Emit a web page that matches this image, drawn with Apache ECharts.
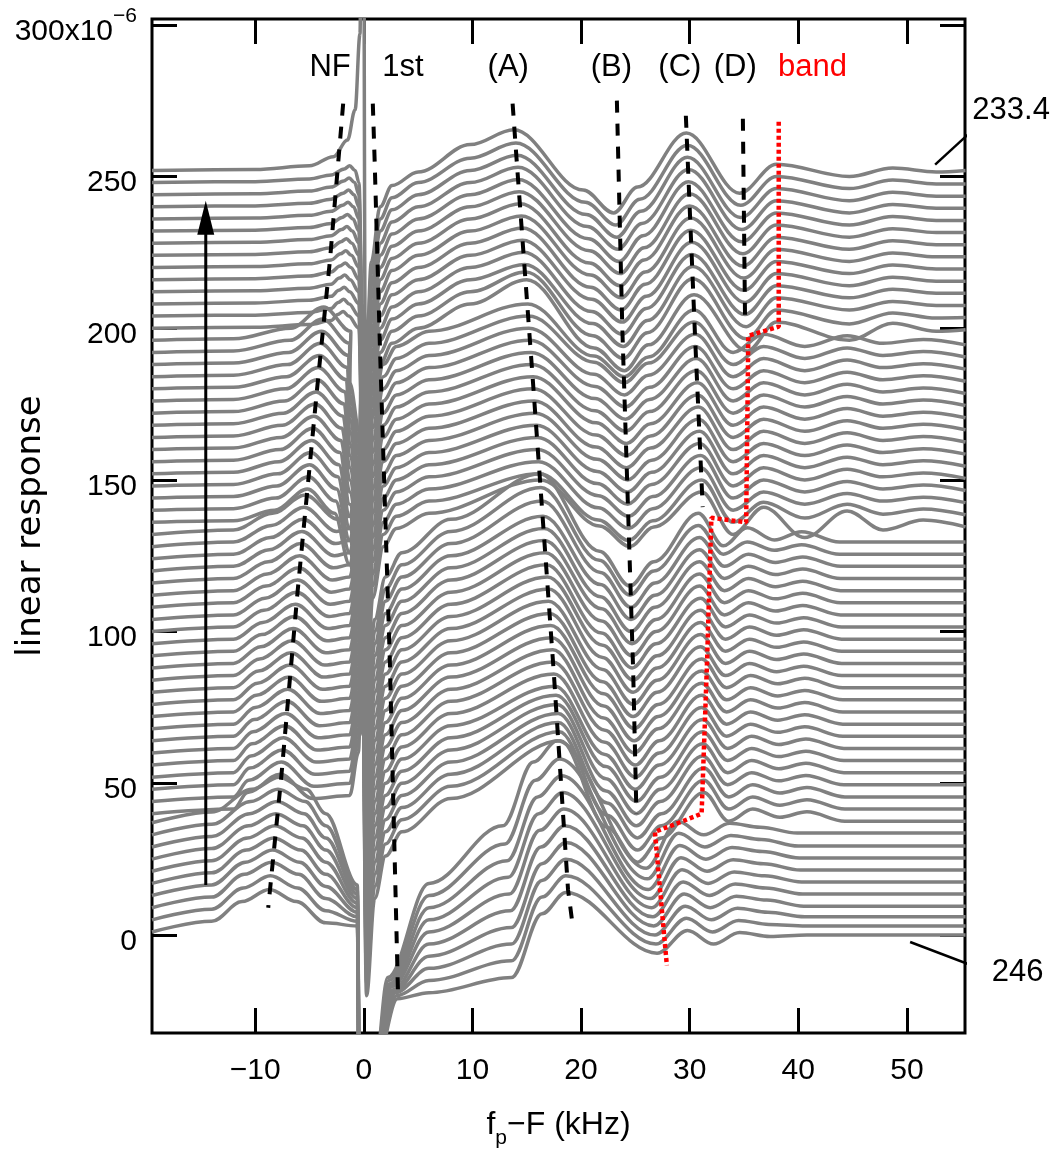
<!DOCTYPE html>
<html>
<head>
<meta charset="utf-8">
<script src="https://cdn.jsdelivr.net/npm/echarts@6/dist/echarts.min.js"></script>
<style>
html, body { margin: 0; padding: 0; background: #fff; }
#chart { width: 1063px; height: 1149px; }
</style>
</head>
<body>
<div id="chart"></div>
<script>
// ---- waterfall of linear-response traces, 246 (bottom) → 233.4 (top) ----
const traceStep = 4;                 // vertical offset between traces (×10⁻⁶)
const traceNames = ['246', '233.4']; // first and last trace
const xTicks = [-10, 0, 10, 20, 30, 40, 50];
const yTicks = [0, 50, 100, 150, 200, 250, 300];

// regime of each trace (1: bottom block … 4: top block, 5: topmost trace)
const traceGroup = [
  1,1,1,1,1,1,1,1,1,1,
  2,2,2,2,2,2,2,2,2,2,2,2,2,2,2,2,2,2,2,2,2,2,2,2,
  3,3,3,3,3,3,3,3,3,3,3,3,3,3,3,3,
  4,4,4,4,4,4,4,4,4,4,4,4,4,5
];

// NF peak position (kHz) and height above trace offset
const nfX = [
  -8.7,-8.6,-8.5,-8.4,-8.3,-8.2,-8.1,-8.0,-7.9,-7.8,
  -7.7,-7.6,-7.5,-7.4,-7.3,-7.2,-7.1,-7.0,-6.9,-6.8,-6.7,-6.6,-6.5,-6.4,-6.3,-6.2,-6.1,-6.0,-5.9,-5.8,-5.7,-5.6,-5.5,-5.4,
  -5.2,-5.1,-5.0,-4.9,-4.8,-4.7,-4.6,-4.5,-4.4,-4.3,-4.2,-4.1,-4.0,-3.9,-3.8,-3.7,
  -1.9,-1.85,-1.8,-1.75,-1.7,-1.65,-1.6,-1.55,-1.5,-1.45,-1.4,-1.35,-1.3,-1.25
];
const nfH = [
  15,15.5,16,16,16,16,16,16,16,16,
  13,13,13,13,13,13,13,13,13,13,13,13,13,13,13,13,13,13,13,13,13,13,13,13,
  11,11,11,11,11,11,11,11,11,11,11,11,11,11,11,11,
  5.5,5.5,5.5,5.5,5.5,5.5,5.5,5.5,5.5,5.5,5.5,5.5,5.5,0
];

// (A) peak
const aX = [
  18.6,18.6,18.6,18.6,18.5,18.4,18.3,18.2,18.0,17.8,
  18.1,18.0,17.9,17.9,17.8,17.7,17.6,17.5,17.4,17.4,17.3,17.2,17.1,17.0,17.0,16.9,16.8,16.7,16.6,16.6,16.5,16.4,16.3,16.2,
  16.3,16.2,16.1,16.0,16.0,15.9,15.8,15.7,15.6,15.6,15.5,15.4,15.3,15.2,15.2,15.1,
  15.0,14.9,14.8,14.7,14.6,14.6,14.5,14.4,14.3,14.2,14.2,14.1,14.0,13.8
];
const aH = [
  14,15.5,17,18.5,20,21.5,23,24.5,26,28,
  24,23,22,21,20,19,18,18,18,18,18,18,18,18,18,18,18,18,18,18,18,19,19.5,20,
  14,12,12,12,12,12,12,12,12,12,12,12,12,12,12,12,
  16,14.5,13,13,13,13,13,13,13,13,13,13,13,13.4
];

// (B) dip (band-edge dip for the bottom block)
const bX = [
  27.0,26.9,26.8,26.7,26.6,26.5,26.4,26.2,26.1,26.0,
  25.2,25.2,25.2,25.1,25.1,25.1,25.0,25.0,25.0,24.9,24.9,24.9,24.8,24.8,24.8,24.8,24.7,24.7,24.7,24.6,24.6,24.6,24.5,24.5,
  24.5,24.4,24.4,24.4,24.3,24.3,24.3,24.2,24.2,24.2,24.1,24.1,24.1,24.0,24.0,24.0,
  24.0,23.9,23.9,23.8,23.8,23.7,23.7,23.6,23.6,23.5,23.4,23.3,23.2,23.0
];
const bH = [
  -6,-7,-8,-9,-10,-11,-12,-13,-13.5,-14,
  -16,-16,-16,-16,-16,-16,-16,-16,-16,-16,-16,-16,-16,-16,-16,-16,-16,-16,-16,-16,-16,-16,-16,-17,
  -8,-10,-10,-10,-10,-10,-10,-10,-10,-10,-10,-10,-10,-10,-10,-12,
  -14,-14,-14,-14,-14,-14,-14,-14,-14,-14,-14,-14,-14,-14
];

// (C) peak
const cX = [
  29.8,29.7,29.6,29.5,29.4,29.3,29.2,29.1,29.0,28.9,
  31.3,31.3,31.3,31.2,31.2,31.2,31.2,31.1,31.1,31.1,31.1,31.1,31.0,31.0,31.0,31.0,31.0,30.9,30.9,30.9,30.9,30.9,30.8,30.8,
  31.1,31.1,31.0,31.0,30.9,30.9,30.8,30.8,30.7,30.7,30.6,30.6,30.5,30.5,30.4,30.4,
  30.4,30.3,30.3,30.2,30.2,30.1,30.1,30.0,30.0,29.9,29.9,29.8,29.8,29.7
];
const cH = [
  1.5,1.5,1.5,1.5,1.5,1.5,1.5,1.5,1.5,1.5,
  7,7,7,7,7,7,7,7,7,7,7,7,7,7,7,7,7,7,7,7,7,7,7,7,
  10,10,10,10,10,10,10,10,10,10,10,10,10,10,10,10,
  11,12.3,12.3,12.3,12.3,12.3,12.3,12.3,12.3,12.3,12.3,12.3,12.3,12.3
];

// size of the ripple beyond the band edge
const ripple = [
  1,1,1,1,1,1,1,1,1,1,
  1,1,1,1,1,1,1,1,1,1,1,1,1,1,1,1,1,1,1,1,1,1,1,1.5,
  2.5,1.3,1,1,1,1,1,1,1,1,1,1,1,1,1,1,
  2,1.3,1,1,1,1,1,1,1,1,1,1,1,1
];

// level of the far right tail relative to the trace offset
const tailH = [
  0,-1,-2,-2.5,-2.5,-2.5,-2.6,-2.6,-2.7,-2.4,
  -2.5,-2.5,-2.5,-2.5,-2.5,-2.5,-2.5,-2.5,-2.5,-2.5,-2.5,-2.5,-2.5,-2.5,-2.5,-2.5,-2.5,-2.5,-2.5,-2.5,-2.5,-2.5,-2.5,-2.5,
  -1.5,-1.5,-1.5,-1.5,-1.5,-1.5,-1.5,-1.5,-1.5,-1.5,-1.5,-1.5,-1.5,-1.5,-1.5,-1.5,
  -0.5,-0.5,-0.5,-0.5,-0.5,-0.5,-0.5,-0.5,-0.5,-0.5,-0.5,-0.5,-0.5,0
];

// bottom block: level reached just below the 1st resonance, and minimum just above it (absolute)
const joinY = [3,4.5,6,7.5,9,10.5,12,13.5,15,16.5];
const postX = [3.1,3.0,2.9,2.8,2.7,2.6,2.5,2.4,2.3,2.2];
const postY = [-21,-20,-19,-18.5,-18,-17,-16.5,-16,-15,-14];

// key points of each regime: [x anchor, dx, y anchor, dy]
const shapeG1 = [
  ['x',-19.5,'o',1], ['x',-14,'o',4.5], ['nf',-2.5,'nf',-4], ['nf',0,'nf',0], ['nf',2.5,'nf',-4],
  ['x',-3.5,'o',4], ['x',-0.6,'j',0], ['x',-0.15,'abs',-250], ['x',0.35,'abs',-250], ['x',1.0,'abs',-45],
  ['p',0,'p',0], ['x',6,'o',-19], ['a',-5,'a',-28], ['a',-2.2,'a',-7], ['a',0,'a',0],
  ['b',0,'b',0], ['c',0,'c',0], ['c',2.4,'o',-3], ['c',4.8,'o',0.8],
  ['c',7.6,'o',-0.5], ['c',11,'t',0], ['x',55.4,'t',0]
];
const shapeG2 = [
  ['x',-19.5,'o',0], ['x',-12,'o',1.5], ['nf',-3,'nf',-6], ['nf',0,'nf',0], ['nf',3,'nf',-8],
  ['x',-1.3,'o',6], ['x',-0.5,'o',20], ['x',-0.15,'o',60], ['x',0.25,'o',-60], ['x',1,'o',-28],
  ['x',2,'o',-14], ['x',3.5,'o',-6], ['x',8,'o',5], ['a',0,'a',0], ['b',-2.8,'b',11.5], ['b',0,'b',0],
  ['b',2.2,'b',8], ['c',0,'c',0],
  ['c',2.3,'r',-2.5], ['c',4.5,'r',1.5], ['c',7,'r',-1.2], ['c',9.5,'r',0.6], ['c',13,'t',0], ['x',55.4,'t',0]
];
const shapeG3 = [
  ['x',-19.5,'o',0], ['x',-12,'o',0.5], ['nf',-3,'nf',-7], ['nf',0,'nf',0], ['nf',2.5,'nf',-8],
  ['x',-1.3,'o',-14], ['x',-0.4,'o',-30], ['x',-0.1,'o',-70], ['x',0.2,'o',-70], ['x',0.8,'o',-25],
  ['x',1.8,'o',-8], ['x',3,'o',-2], ['x',6,'o',3], ['a',0,'a',0], ['b',-2.8,'b',6.8], ['b',0,'b',0],
  ['b',2.2,'b',6.5], ['c',0,'c',0],
  ['x',34,'o',-4], ['x',36.8,'r',2], ['x',40.6,'r',-2], ['x',44.5,'r',1.5], ['x',47.8,'r',-1], ['x',51.5,'r',0.3], ['x',55.4,'t',0]
];
const shapeG4 = [
  ['x',-19.5,'o',0], ['x',-10,'o',0.3], ['x',-5,'o',1.2], ['x',-3,'o',2.5], ['nf',-0.5,'nf',-1],
  ['nf',0,'nf',0], ['nf',0.5,'nf',-1.5], ['x',-0.45,'o',0], ['x',-0.15,'o',-40], ['x',0.15,'o',-70],
  ['x',0.7,'o',-30], ['x',1.5,'o',-12], ['x',2.6,'o',-5], ['x',5,'o',0], ['x',9.8,'o',8],
  ['a',0,'a',0], ['b',-2.8,'b',7.5], ['b',0,'b',0], ['b',2.2,'b',8.5], ['c',0,'c',0], ['c',4.9,'o',-7.5], ['x',38,'o',2],
  ['x',44.7,'r',-2], ['x',48.7,'r',0.8], ['x',52.7,'r',-0.5], ['x',55.4,'t',0]
];
const shapeTop = [
  ['x',-19.5,'o',0], ['x',-10,'o',0.3], ['x',-5,'o',1.5], ['x',-2.8,'o',4.5], ['x',-1.5,'o',10],
  ['x',-0.8,'o',20], ['x',-0.35,'o',45], ['x',-0.1,'abs',450], ['x',0.15,'o',-70], ['x',0.7,'o',-30],
  ['x',1.5,'o',-12], ['x',2.6,'o',-5], ['x',5,'o',-0.5], ['x',9.8,'o',8.5], ['a',0,'a',0],
  ['b',-2.8,'b',7.5], ['b',0,'b',0], ['b',2.2,'b',8.5], ['c',0,'c',0], ['c',4.9,'o',-7.5], ['x',38,'o',2], ['x',44.7,'r',-2],
  ['x',48.7,'r',0.8], ['x',52.7,'r',-0.5], ['x',55.4,'t',0]
];
const shapes = { 1: shapeG1, 2: shapeG2, 3: shapeG3, 4: shapeG4, 5: shapeTop };

// dashed guides following each feature, and the dotted band edge
const guideNF  = [[-1.9,274],[-3.1,223],[-4.3,180],[-6.1,113],[-7.6,52],[-8.8,9]];
const guide1st = [[0.83,274],[1.0,255],[1.5,192],[2.4,90],[3.16,-21]];
const guideA   = [[13.7,274],[14.1,254],[15.6,181],[17.5,86],[18.8,15],[19.2,4]];
const guideB   = [[23.3,275],[23.8,200],[24.8,87],[25.1,40]];
const guideC   = [[29.65,270],[30.5,197],[31.2,141]];
const guideD   = [[34.9,269],[35.1,203]];
const bandEdge = [[38.2,268],[38.2,200.5],[35.4,197.5],[35.2,136],[32.0,137.5],[31.6,90],[31.1,40],[29.0,37],[26.8,34],[27.9,-10]];

// feature labels along the top
const featureLabels = [
  ['NF', -3.1, 286], ['1st', 3.6, 286], ['(A)', 13.3, 286], ['(B)', 22.8, 286],
  ['(C)', 29.1, 286], ['(D)', 34.2, 286], ['band', 41.3, 286]
];
// arrow showing the stepping direction
const arrowShaft = [[-14.55, 16.5], [-14.55, 232]];
const arrowTip = [-14.55, 242];
// leaders to the first / last trace
const leaderTop = [[52.6, 253.9], [56.4, 266.4]];
const leaderBottom = [[50.3, -2.3], [56.3, -10.5]];
const nameTop = [59.6, 271.7];
const nameBottom = [60.2, -12.2];

function buildTrace(i) {
  const o = i * traceStep;
  const shape = shapes[traceGroup[i]];
  const xa = { nf: nfX[i], a: aX[i], b: bX[i], c: cX[i], p: postX[i] };
  const ya = { o: o, abs: 0, nf: o + nfH[i], a: o + aH[i], b: o + bH[i], c: o + cH[i], t: o + tailH[i],
    p: postY[i], j: joinY[i] };
  return shape.map(([ax, dx, ay, dy]) => [
    (ax === 'x' ? 0 : xa[ax]) + dx,
    ay === 'r' ? o + dy * ripple[i] : ya[ay] + dy
  ]);
}

const FONT = '"Liberation Sans", Arial, sans-serif';
const gray = '#808080';
const series = [];

for (let i = 0; i < traceGroup.length; i++) {
  series.push({
    type: 'line', data: buildTrace(i), symbol: 'none', smooth: 0.35, smoothMonotone: 'x',
    lineStyle: { color: gray, width: 3.5 }, z: 2, silent: true
  });
}

const dash = { color: '#000', width: 4, type: [12, 11] };
[guideNF, guide1st, guideA, guideB, guideC, guideD].forEach(g => {
  series.push({ type: 'line', data: g, symbol: 'none', lineStyle: dash, z: 5, silent: true });
});
series.push({ type: 'line', data: bandEdge, symbol: 'none', z: 6, silent: true,
  lineStyle: { color: '#ff0000', width: 4.5, type: [4, 3] } });

// arrow
series.push({ type: 'line', data: arrowShaft, symbol: 'none', z: 6, silent: true,
  lineStyle: { color: '#000', width: 3 } });
series.push({ type: 'scatter', data: [arrowTip], symbol: 'triangle', symbolSize: [17, 34],
  symbolOffset: [0, '50%'], itemStyle: { color: '#000', opacity: 1 }, z: 7, silent: true });

// leaders
[leaderTop, leaderBottom].forEach(l => series.push({ type: 'line', data: l, symbol: 'none', clip: false,
  z: 6, silent: true, lineStyle: { color: '#000', width: 2.5 } }));

// text labels
const textItems = featureLabels.map(([t, x, y]) => ({ value: [x, y, t],
  label: { color: t === 'band' ? '#ff0000' : '#000' } }));
textItems.push({ value: [nameTop[0], nameTop[1], traceNames[1]] });
textItems.push({ value: [nameBottom[0], nameBottom[1], traceNames[0]] });
series.push({ type: 'scatter', data: textItems, symbolSize: 1, clip: false, z: 8, silent: true,
  itemStyle: { color: 'rgba(0,0,0,0)', opacity: 1 },
  label: { show: true, position: 'inside', fontSize: 31, fontFamily: FONT, color: '#000', opacity: 1,
    formatter: p => p.value[2] } });

const minus = v => (v < 0 ? '\u2212' + Math.abs(v) : String(v));
const tickStyle = { inside: true, length: 25, lineStyle: { color: '#000', width: 3 } };
const noLine = { show: false, onZero: false };

const option = {
  animation: false,
  backgroundColor: '#fff',
  grid: { left: 152, right: 98, top: 19, bottom: 116, show: true, borderColor: '#000', borderWidth: 3,
    backgroundColor: 'transparent', containLabel: false, outerBoundsMode: 'none' },
  xAxis: [
    { type: 'value', min: -19.5, max: 55.35, position: 'bottom',
      axisLine: noLine, splitLine: { show: false },
      axisTick: Object.assign({ customValues: xTicks }, tickStyle),
      axisLabel: { customValues: xTicks, fontSize: 30, fontFamily: FONT, color: '#000', margin: 23, formatter: minus },
      name: '{n|f}{s|p}{n|\u2212F (kHz)}', nameLocation: 'middle', nameGap: 76,
      nameTextStyle: { rich: {
        n: { fontSize: 32, fontFamily: FONT, color: '#000', padding: [0, 0, 8, 0] },
        s: { fontSize: 21, fontFamily: FONT, color: '#000', verticalAlign: 'bottom' } } } },
    { type: 'value', min: -19.5, max: 55.35, position: 'top',
      axisLine: noLine, splitLine: { show: false },
      axisTick: Object.assign({ customValues: xTicks }, tickStyle), axisLabel: { show: false } }
  ],
  yAxis: [
    { type: 'value', min: -32.3, max: 301.9, position: 'left',
      axisLine: noLine, splitLine: { show: false },
      axisTick: Object.assign({ customValues: yTicks }, tickStyle),
      axisLabel: { customValues: yTicks, margin: 15, color: '#000',
        formatter: v => (v === 300 ? '{m|300x10}{e|\u22126}' : '{m|' + v + '}'),
        rich: {
          m: { fontSize: 30, fontFamily: FONT, color: '#000', verticalAlign: 'top', padding: [13, 0, 0, 0] },
          e: { fontSize: 21, fontFamily: FONT, color: '#000', verticalAlign: 'top', padding: [2, 0, 0, 0] } } },
      name: 'linear response', nameLocation: 'middle', nameGap: 104, nameRotate: 90, nameMoveOverlap: false,
      nameTextStyle: { fontSize: 34, fontFamily: '"DejaVu Sans", sans-serif', color: '#000' } },
    { type: 'value', min: -32.3, max: 301.9, position: 'right',
      axisLine: noLine, splitLine: { show: false },
      axisTick: Object.assign({ customValues: yTicks }, tickStyle), axisLabel: { show: false } }
  ],
  series: series
};

const chart = echarts.init(document.getElementById('chart'), null, { renderer: 'canvas' });
chart.setOption(option);
</script>
</body>
</html>
